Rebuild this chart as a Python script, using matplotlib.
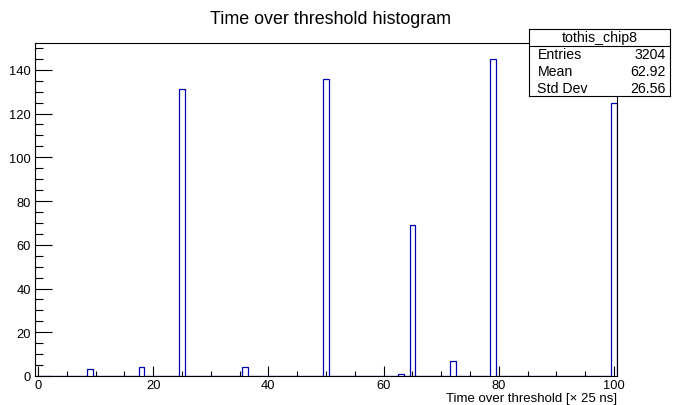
import matplotlib
matplotlib.use("Agg")
import matplotlib.pyplot as plt
from matplotlib.ticker import MultipleLocator
import numpy as np

plt.rcParams['font.family'] = ['Liberation Sans', 'DejaVu Sans']

# histogram content (bin centre -> counts)
tot_bins = [9, 18, 25, 36, 50, 63, 65, 72, 79, 100]
tot_counts = [3, 4, 131, 4, 136, 1, 69, 7, 145, 125]

stat_names = ["Entries", "Mean", "Std Dev"]
stat_values = ["3204", "62.92", "26.56"]
hist_name = "tothis_chip8"

W, H = 674, 406
fig = plt.figure(figsize=(W / 100, H / 100), dpi=100)
ax = fig.add_axes([35 / W, (H - 377) / H, (617 - 35) / W, (377 - 44) / H])

edges = np.arange(-0.5, 101.0, 1.0)
ax.hist(tot_bins, bins=edges, weights=tot_counts, histtype='step',
        color='#0000b0', linewidth=0.9)

ax.set_xlim(-0.5, 100.5)
ax.set_ylim(0, max(tot_counts) * 1.05)

ax.xaxis.set_major_locator(MultipleLocator(20))
ax.xaxis.set_minor_locator(MultipleLocator(5))
ax.yaxis.set_major_locator(MultipleLocator(20))
ax.yaxis.set_minor_locator(MultipleLocator(5))
ax.tick_params(axis='x', which='major', direction='in', length=7.2, width=0.8,
               labelsize=9.3, pad=2)
ax.tick_params(axis='x', which='minor', direction='in', length=3.6, width=0.8)
ax.tick_params(axis='y', which='major', direction='in', length=12.2, width=0.8,
               labelsize=9.3, pad=3)
ax.tick_params(axis='y', which='minor', direction='in', length=6.1, width=0.8)
for s in ax.spines.values():
    s.set_linewidth(0.8)

# axis title sits right-aligned under the axis, like ROOT does it
fig.text(617 / W, 1 - 399 / H, "Time over threshold [\u00d7 25 ns]",
         fontsize=9.5, ha='right', va='center')

fig.text(0.49, 1 - 20 / H, "Time over threshold histogram", fontsize=12.9,
         ha='center', va='center')

# stats box
sb = fig.add_axes([529 / W, (H - 97) / H, 141 / W, 67 / H])
sb.set_xticks([])
sb.set_yticks([])
sb.set_xlim(0, 1)
sb.set_ylim(0, 1)
for s in sb.spines.values():
    s.set_linewidth(0.8)
sb.axhline(0.75, color='black', linewidth=0.8)
sb.text(0.5, 0.875, hist_name, fontsize=10.2, ha='center', va='center')
rows = [0.625, 0.375, 0.125]
for y, n, v in zip(rows, stat_names, stat_values):
    sb.text(0.06, y, n, fontsize=10.2, ha='left', va='center')
    sb.text(0.97, y, v, fontsize=10.2, ha='right', va='center')

fig.savefig("out.png", dpi=100)
